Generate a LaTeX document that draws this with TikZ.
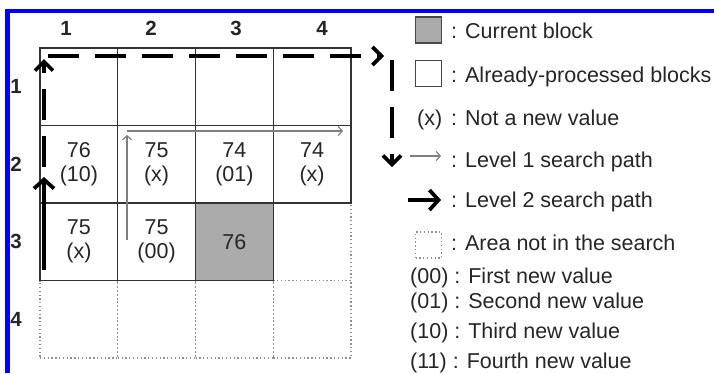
\documentclass[tikz,border=0pt]{standalone}
\usepackage{fontspec}
\setmainfont{Liberation Sans}
\usetikzlibrary{arrows.meta}
\definecolor{gridc}{HTML}{333333}
\definecolor{dotc}{HTML}{909090}
\definecolor{curc}{HTML}{ABABAB}
\definecolor{lonec}{HTML}{7F7F7F}
\definecolor{framec}{HTML}{0000FF}
\definecolor{txtc}{HTML}{262626}
\begin{document}
\begin{tikzpicture}[x=1pt,y=-1pt,
  cell/.style={minimum width=77.75pt,minimum height=77.5pt,inner sep=0pt,draw=gridc,line width=1.3pt,align=center,font=\fontsize{21.5}{24}\selectfont,text=txtc},
  dotcell/.style={cell,draw=dotc,line width=1.3pt,dash pattern=on 1.3pt off 2.5pt},
  curcell/.style={cell,fill=curc},
  hlabel/.style={font=\bfseries\fontsize{20.5}{21}\selectfont,inner sep=0pt,text=txtc},
  legtext/.style={anchor=base west,inner sep=0pt,font=\fontsize{21.5}{24}\selectfont,text=txtc},
  legbox/.style={minimum size=26pt,inner sep=0pt,draw=gridc!90,line width=1.3pt},
  legdot/.style={minimum size=26pt,inner sep=0pt,draw=dotc,line width=1.3pt,dash pattern=on 1.3pt off 2.5pt},
  lvlone/.style={draw=lonec,line width=1.2pt,-{Straight Barb[length=4pt,width=9pt]}},
  lvltwo/.style={line width=3.8pt,-{Straight Barb[length=9pt,width=20pt]}},
  lvlthree/.style={line width=3.6pt,dash pattern=on 31pt off 16pt,-{Straight Barb[length=9pt,width=18pt]}}
]
\useasboundingbox (0,0) rectangle (714,373);
\fill[white] (0,0) rectangle (714,373);

% frame (blue, top and left)
\draw[framec,line width=4.6pt,line join=miter] (7.5,373) -- (7.5,10.8) -- (714,10.8);

% dotted cells (area not in the search)
\node[dotcell] (c34) at (312.1,241.75) {};
\node[dotcell] (c41) at (78.9,319.25) {};
\node[dotcell] (c42) at (156.6,319.25) {};
\node[dotcell] (c43) at (234.4,319.25) {};
\node[dotcell] (c44) at (312.1,319.25) {};

% solid cells
\node[cell] (c11) at (78.9,86.75) {};
\node[cell] (c12) at (156.6,86.75) {};
\node[cell] (c13) at (234.4,86.75) {};
\node[cell] (c14) at (312.1,86.75) {};
\node[cell] (c21) at (78.9,164.25) {76\\(10)};
\node[cell] (c22) at (156.6,164.25) {75\\(x)};
\node[cell] (c23) at (234.4,164.25) {74\\(01)};
\node[cell] (c24) at (312.1,164.25) {74\\(x)};
\node[cell] (c31) at (78.9,241.75) {75\\(x)};
\node[cell] (c32) at (156.6,241.75) {75\\(00)};
\node[curcell] (c33) at (234.4,241.75) {76};

% column and row labels
\node[hlabel] (col1) at (66,28) {1};
\node[hlabel] (col2) at (151,28) {2};
\node[hlabel] (col3) at (236,28) {3};
\node[hlabel] (col4) at (322,28) {4};
\node[hlabel] (row1) at (16,86.75) {1};
\node[hlabel] (row2) at (16,164.25) {2};
\node[hlabel] (row3) at (16,241.75) {3};
\node[hlabel] (row4) at (16,319.25) {4};

% level 1 search path (thin gray)
\coordinate (aone) at (127,240);
\coordinate (bone) at (127,135);
\coordinate (cone) at (127,131);
\coordinate (done) at (343,131);
\draw[lvlone] (aone) -- (bone);
\draw[lvlone] (cone) -- (done);

% level 2 search path (thick black)
\coordinate (atwo) at (44,270);
\coordinate (btwo) at (44,177);
\draw[lvltwo] (atwo) -- (btwo);

% dashed path
\coordinate (dA) at (44,167);
\coordinate (dB) at (44,59);
\coordinate (dC) at (48,56);
\coordinate (dD) at (384,56);
\coordinate (dE) at (392,60);
\coordinate (dF) at (392,167);
\draw[lvlthree] (dA) -- (dB);
\draw[lvlthree] (dC) -- (dD);
\draw[lvlthree] (dE) -- (dF);

% legend
\node[legbox,fill=curc] (kcur) at (428.5,30) {};
\node[legtext] (tcur) at (451,38.5) {: Current block};
\node[legbox,fill=white] (kdone) at (428.5,73.5) {};
\node[legtext] (tdone) at (451,82) {: Already-processed blocks};
\node[legtext] (kx) at (417,125) {(x)};
\node[legtext] (tx) at (451,125) {: Not a new value};
\coordinate (kla) at (410,156);
\coordinate (klb) at (441,156);
\draw[lvlone] (kla) -- (klb);
\node[legtext] (tone) at (451,167) {: Level 1 search path};
\coordinate (kta) at (408,200);
\coordinate (ktb) at (441,200);
\draw[lvltwo] (kta) -- (ktb);
\node[legtext] (ttwo) at (451,207) {: Level 2 search path};
\node[legdot] (kdot) at (428.5,245) {};
\node[legtext] (tdot) at (451,250) {: Area not in the search};
\node[legtext] (t00) at (410,283.5) {(00) : First new value};
\node[legtext] (t01) at (410,308.5) {(01) : Second new value};
\node[legtext] (t10) at (410,338.5) {(10) : Third new value};
\node[legtext] (t11) at (410,368.5) {(11) : Fourth new value};
\end{tikzpicture}
\end{document}
